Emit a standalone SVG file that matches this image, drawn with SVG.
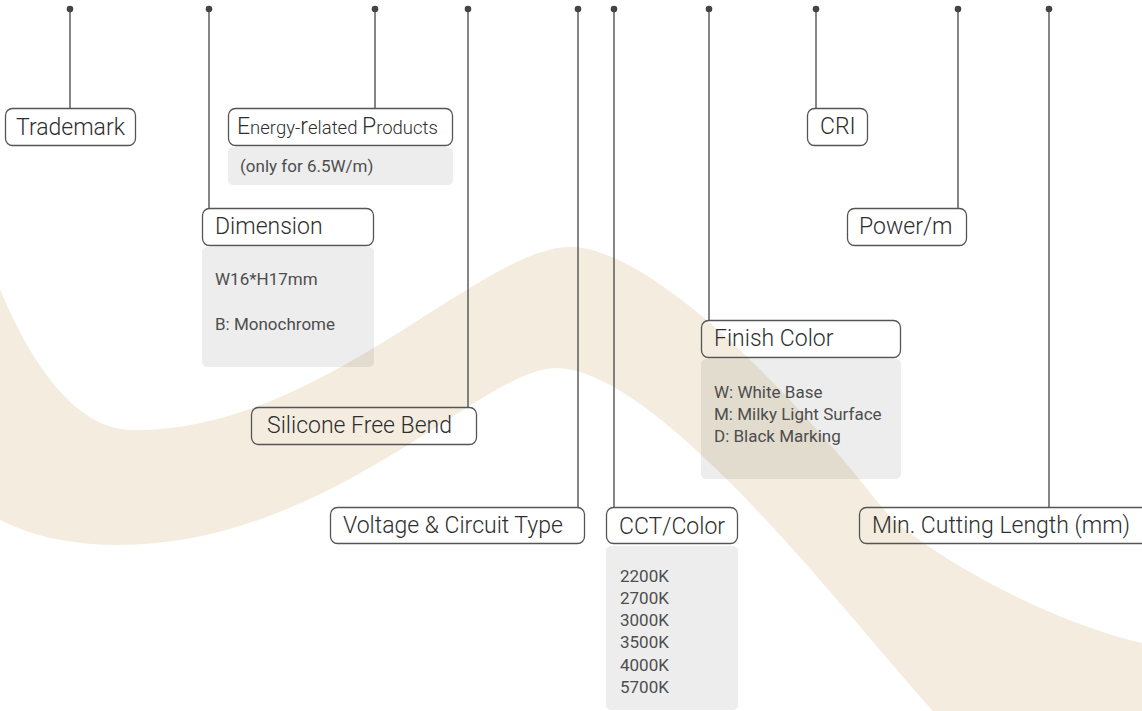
<svg xmlns="http://www.w3.org/2000/svg" width="1142" height="711" viewBox="0 0 1142 711">
<style>
.lbl{fill:none;stroke:#555;stroke-width:1.3}
.det{fill:#000;fill-opacity:0.07}
.t{font-family:Roboto,"Liberation Sans",sans-serif;font-size:23px;font-weight:300;fill:#2e2e2e}
.d{font-family:Roboto,"Liberation Sans",sans-serif;font-size:17px;font-weight:400;fill:#4d4d4d}
.ln{stroke:#444;stroke-width:1.3;fill:none}
.dot{fill:#444}
</style>
<rect width="1142" height="711" fill="#fff"/>
<path id="band" fill="#f4eddf" d="M -15,250 C 20,350 70,430 133,430 C 320,432 480,247 570,247 C 650,247 790,390 880,505 C 910,544 1040,620 1142,643 L 1170,650 L 1170,760 L 980,760 L 933,711 C 850,620 660,368 555,368 C 480,370 330,545 117,545 C 60,545 10,530 -15,510 Z"/>
<g id="connectors">
<line class="ln" x1="70" y1="9" x2="70" y2="108"/>
<line class="ln" x1="209" y1="9" x2="209" y2="208"/>
<line class="ln" x1="375" y1="9" x2="375" y2="108"/>
<line class="ln" x1="468" y1="9" x2="468" y2="407"/>
<line class="ln" x1="578" y1="9" x2="578" y2="507"/>
<line class="ln" x1="614" y1="9" x2="614" y2="507"/>
<line class="ln" x1="709" y1="9" x2="709" y2="320"/>
<line class="ln" x1="816" y1="9" x2="816" y2="108"/>
<line class="ln" x1="958" y1="9" x2="958" y2="208"/>
<line class="ln" x1="1049" y1="9" x2="1049" y2="507"/>
<circle class="dot" cx="70" cy="9" r="3.3"/>
<circle class="dot" cx="209" cy="9" r="3.3"/>
<circle class="dot" cx="375" cy="9" r="3.3"/>
<circle class="dot" cx="468" cy="9" r="3.3"/>
<circle class="dot" cx="578" cy="9" r="3.3"/>
<circle class="dot" cx="614" cy="9" r="3.3"/>
<circle class="dot" cx="709" cy="9" r="3.3"/>
<circle class="dot" cx="816" cy="9" r="3.3"/>
<circle class="dot" cx="958" cy="9" r="3.3"/>
<circle class="dot" cx="1049" cy="9" r="3.3"/>
</g>
<g id="trademark">
<rect class="lbl" x="5.5" y="108.5" width="130" height="37" rx="7"/>
<text class="t" x="16" y="135">Trademark</text>
</g>
<g id="energy">
<rect class="det" x="228" y="147" width="225" height="38" rx="5"/>
<rect class="lbl" x="228.5" y="108.5" width="224" height="37" rx="7"/>
<text class="t" x="237" y="134">E<tspan font-size="18.5">nergy-</tspan>r<tspan font-size="18.5">elated </tspan>P<tspan font-size="18.5">roducts</tspan></text>
<text class="d" x="240" y="172">(only for 6.5W/m)</text>
</g>
<g id="dimension">
<rect class="det" x="202" y="247" width="172" height="120" rx="5"/>
<rect class="lbl" x="202.5" y="208.5" width="171" height="37" rx="7"/>
<text class="t" x="215" y="234">Dimension</text>
<text class="d" x="215" y="285">W16*H17mm</text>
<text class="d" x="215" y="330">B: Monochrome</text>
</g>
<g id="silicone">
<rect class="lbl" x="251.5" y="407.5" width="225" height="37" rx="7"/>
<text class="t" x="267" y="433">Silicone Free Bend</text>
</g>
<g id="voltage">
<rect class="lbl" x="330.5" y="507.5" width="254" height="36" rx="7"/>
<text class="t" x="343" y="533">Voltage &amp; Circuit Type</text>
</g>
<g id="cct">
<rect class="det" x="606" y="546" width="132" height="164" rx="5"/>
<rect class="lbl" x="606.5" y="507.5" width="131" height="36" rx="7"/>
<text class="t" x="619" y="534">CCT/Color</text>
<text class="d" x="620" y="582">2200K</text>
<text class="d" x="620" y="604">2700K</text>
<text class="d" x="620" y="626">3000K</text>
<text class="d" x="620" y="648">3500K</text>
<text class="d" x="620" y="671">4000K</text>
<text class="d" x="620" y="693">5700K</text>
</g>
<g id="finish">
<rect class="det" x="701" y="359" width="200" height="120" rx="5"/>
<rect class="lbl" x="701.5" y="320.5" width="199" height="37" rx="7"/>
<text class="t" x="714" y="346">Finish Color</text>
<text class="d" x="714" y="398">W: White Base</text>
<text class="d" x="714" y="420">M: Milky Light Surface</text>
<text class="d" x="714" y="442">D: Black Marking</text>
</g>
<g id="cri">
<rect class="lbl" x="807.5" y="108.5" width="60" height="37" rx="7"/>
<text class="t" x="820" y="134">CRI</text>
</g>
<g id="power">
<rect class="lbl" x="847.5" y="208.5" width="119" height="37" rx="7"/>
<text class="t" x="859" y="234">Power/m</text>
</g>
<g id="mincut">
<rect class="lbl" x="859.5" y="507.5" width="290" height="36" rx="7"/>
<text class="t" x="872" y="533">Min. Cutting Length (mm)</text>
</g>
</svg>
